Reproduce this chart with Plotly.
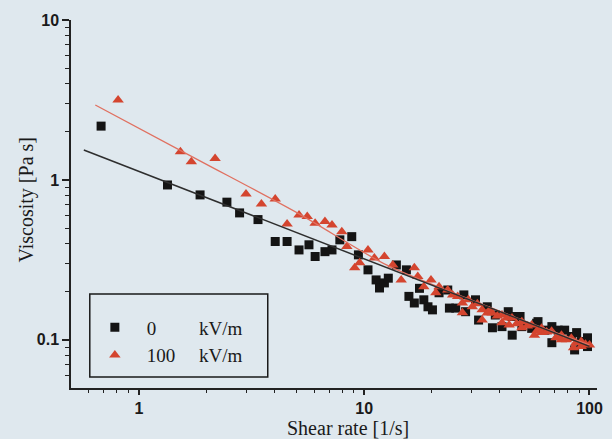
import math
import plotly.graph_objects as go

# ---- data ----
shear_0kv = [0.68, 1.34, 1.87, 2.46, 2.80, 3.38, 4.03, 4.55, 5.14, 5.69, 6.06, 6.70, 7.20, 7.80,
             8.81, 9.43, 10.4, 11.3, 11.7, 12.3, 12.8, 13.9, 15.4, 15.8, 16.7, 17.6, 18.4, 19.2,
             20.1, 21.5, 23.5, 23.9, 25.5, 27.7, 28.2, 31.2, 32.2, 35.2, 37.1, 38.2, 40.9, 43.6,
             45.3, 45.4, 49.2, 50.1, 55.4, 58.3, 59.1, 63.4, 68.1, 68.1, 72.6, 77.6, 83.1, 85.9,
             87.7, 91.9, 98.0, 98.0]
visc_0kv = [2.17, 0.93, 0.806, 0.726, 0.622, 0.565, 0.412, 0.412, 0.365, 0.393, 0.332, 0.356, 0.365, 0.422,
            0.442, 0.340, 0.274, 0.237, 0.211, 0.227, 0.243, 0.294, 0.274, 0.187, 0.170, 0.210, 0.178, 0.161,
            0.154, 0.197, 0.205, 0.158, 0.158, 0.191, 0.150, 0.178, 0.133, 0.161, 0.119, 0.143, 0.121, 0.150,
            0.140, 0.107, 0.140, 0.121, 0.118, 0.127, 0.130, 0.115, 0.121, 0.096, 0.115, 0.115, 0.105, 0.0865,
            0.111, 0.0976, 0.103, 0.0908]

shear_100kv = [0.809, 1.53, 1.71, 2.18, 2.99, 3.50, 4.03, 4.55, 5.14, 5.59, 6.06, 6.70, 7.20, 7.96,
               8.38, 9.08, 9.55, 10.4, 11.1, 12.3, 13.4, 14.6, 16.7, 17.3, 18.4, 19.8, 20.8, 21.5,
               23.5, 24.7, 26.0, 27.3, 27.3, 30.2, 33.4, 33.4, 35.2, 37.0, 40.9, 40.9, 45.3, 50.1,
               50.1, 55.4, 61.3, 61.3, 67.9, 75.1, 75.1, 83.1, 91.9, 91.9, 100.0,
               29.0, 31.8, 36.0, 39.0, 43.0, 47.5, 53.0, 58.5, 64.5, 71.0, 79.0, 87.0, 96.0,
               44.0, 57.0, 85.0]
visc_100kv = [3.16, 1.50, 1.30, 1.36, 0.818, 0.708, 0.760, 0.531, 0.604, 0.590, 0.536, 0.549, 0.523, 0.475,
              0.383, 0.282, 0.303, 0.365, 0.325, 0.332, 0.294, 0.237, 0.282, 0.249, 0.215, 0.237, 0.197, 0.215,
              0.205, 0.191, 0.187, 0.170, 0.148, 0.161, 0.154, 0.133, 0.147, 0.147, 0.143, 0.128, 0.137, 0.130,
              0.119, 0.124, 0.118, 0.111, 0.113, 0.107, 0.100, 0.1025, 0.0976, 0.0908, 0.093,
              0.178, 0.168, 0.152, 0.141, 0.137, 0.126, 0.122, 0.114, 0.112, 0.103, 0.100, 0.096, 0.094,
              0.124, 0.107, 0.0893]

# fitted curves
fit_0kv_x = [0.57, 100.0]
fit_0kv_y = [1.54, 0.091]
fit_100kv_x = [0.641, 1.84, 5.05, 12.56, 25.5, 51.8, 100.0]
fit_100kv_y = [2.94, 1.33, 0.622, 0.294, 0.194, 0.131, 0.093]

legend_0kv = "0" + "\u00a0" * 9 + "kV/m"
legend_100kv = "100" + "\u00a0" * 5 + "kV/m"

x_major = [1, 10, 100]
x_major_text = ["1", "10", "100"]
y_major = [0.1, 1, 10]
y_major_text = ["0.1", "1", "10"]
x_minor = [0.6, 0.7, 0.8, 0.9] + list(range(2, 10)) + list(range(20, 100, 10))
y_minor = [0.06, 0.07, 0.08, 0.09, 0.2, 0.3, 0.4, 0.5, 0.6, 0.7, 0.8, 0.9] + list(range(2, 10))

BG = "#dfe8ee"
BLACK = "#141414"
RED = "#d4452f"

fig = go.Figure()
fig.add_trace(go.Scatter(x=shear_0kv, y=visc_0kv, mode="markers", name=legend_0kv,
                         marker=dict(symbol="square", size=9, color=BLACK, line=dict(width=0))))
fig.add_trace(go.Scatter(x=shear_100kv, y=visc_100kv, mode="markers", name=legend_100kv,
                         marker=dict(symbol="triangle-up", size=10, color=RED, line=dict(width=0))))
fig.add_trace(go.Scatter(x=fit_100kv_x, y=fit_100kv_y, mode="lines", showlegend=False,
                         line=dict(color="#e07060", width=1.3, shape="spline", smoothing=0.8)))
fig.add_trace(go.Scatter(x=fit_0kv_x, y=fit_0kv_y, mode="lines", showlegend=False,
                         line=dict(color="#2e2e2e", width=1.5)))

tickfont = dict(family="Liberation Sans, Arial", size=16, color="#1a1a1a", weight="bold")

fig.update_layout(
    width=612, height=439,
    margin=dict(l=71, r=9, t=20, b=51),
    paper_bgcolor=BG, plot_bgcolor=BG,
    showlegend=True,
    legend=dict(x=(83 - 71) / 532, y=0.216, xanchor="left", yanchor="top",
                bgcolor="rgba(0,0,0,0)", borderwidth=0, itemwidth=54,
                font=dict(family="Liberation Serif, Times New Roman", size=19, color="#1a1a1a")),
    xaxis=dict(type="log", range=[math.log10(0.5), math.log10(108)],
               tickmode="array", tickvals=x_major, ticktext=x_major_text,
               ticks="outside", ticklen=5, tickwidth=1.5, tickcolor="#222",
               showline=True, linecolor="#222", linewidth=1.5, showgrid=False,
               tickfont=tickfont,
               minor=dict(tickmode="array", tickvals=x_minor, ticks="outside",
                          ticklen=3, tickwidth=1, tickcolor="#222", showgrid=False)),
    yaxis=dict(type="log", range=[math.log10(0.05), 1],
               tickmode="array", tickvals=y_major, ticktext=y_major_text,
               ticks="outside", ticklen=7, tickwidth=1.5, tickcolor="#222",
               showline=True, linecolor="#222", linewidth=1.5, showgrid=False,
               tickfont=tickfont,
               minor=dict(tickmode="array", tickvals=y_minor, ticks="outside",
                          ticklen=4, tickwidth=1, tickcolor="#222", showgrid=False)),
    shapes=[dict(type="rect", xref="paper", yref="paper",
                 x0=(90 - 71) / 532, x1=(270 - 71) / 532,
                 y0=(388 - 377) / 368, y1=(388 - 294) / 368,
                 line=dict(color="#1a1a1a", width=1.5), fillcolor="rgba(0,0,0,0)")],
    annotations=[
        dict(text="Shear rate [1/s]", xref="paper", yref="paper",
             x=(351 - 71) / 532, y=(388 - 428) / 368, xanchor="center", yanchor="middle",
             showarrow=False,
             font=dict(family="Liberation Serif, Times New Roman", size=20, color="#1a1a1a")),
        dict(text="Viscosity [Pa s]", xref="paper", yref="paper",
             x=(26 - 71) / 532, y=(388 - 200) / 368, xanchor="center", yanchor="middle",
             textangle=-90, showarrow=False,
             font=dict(family="Liberation Serif, Times New Roman", size=20, color="#1a1a1a")),
    ],
)

fig.write_html(
    "out.html",
    config={"displayModeBar": False},
    post_script="document.body.style.margin='0';document.body.style.background='" + BG + "';",
)
